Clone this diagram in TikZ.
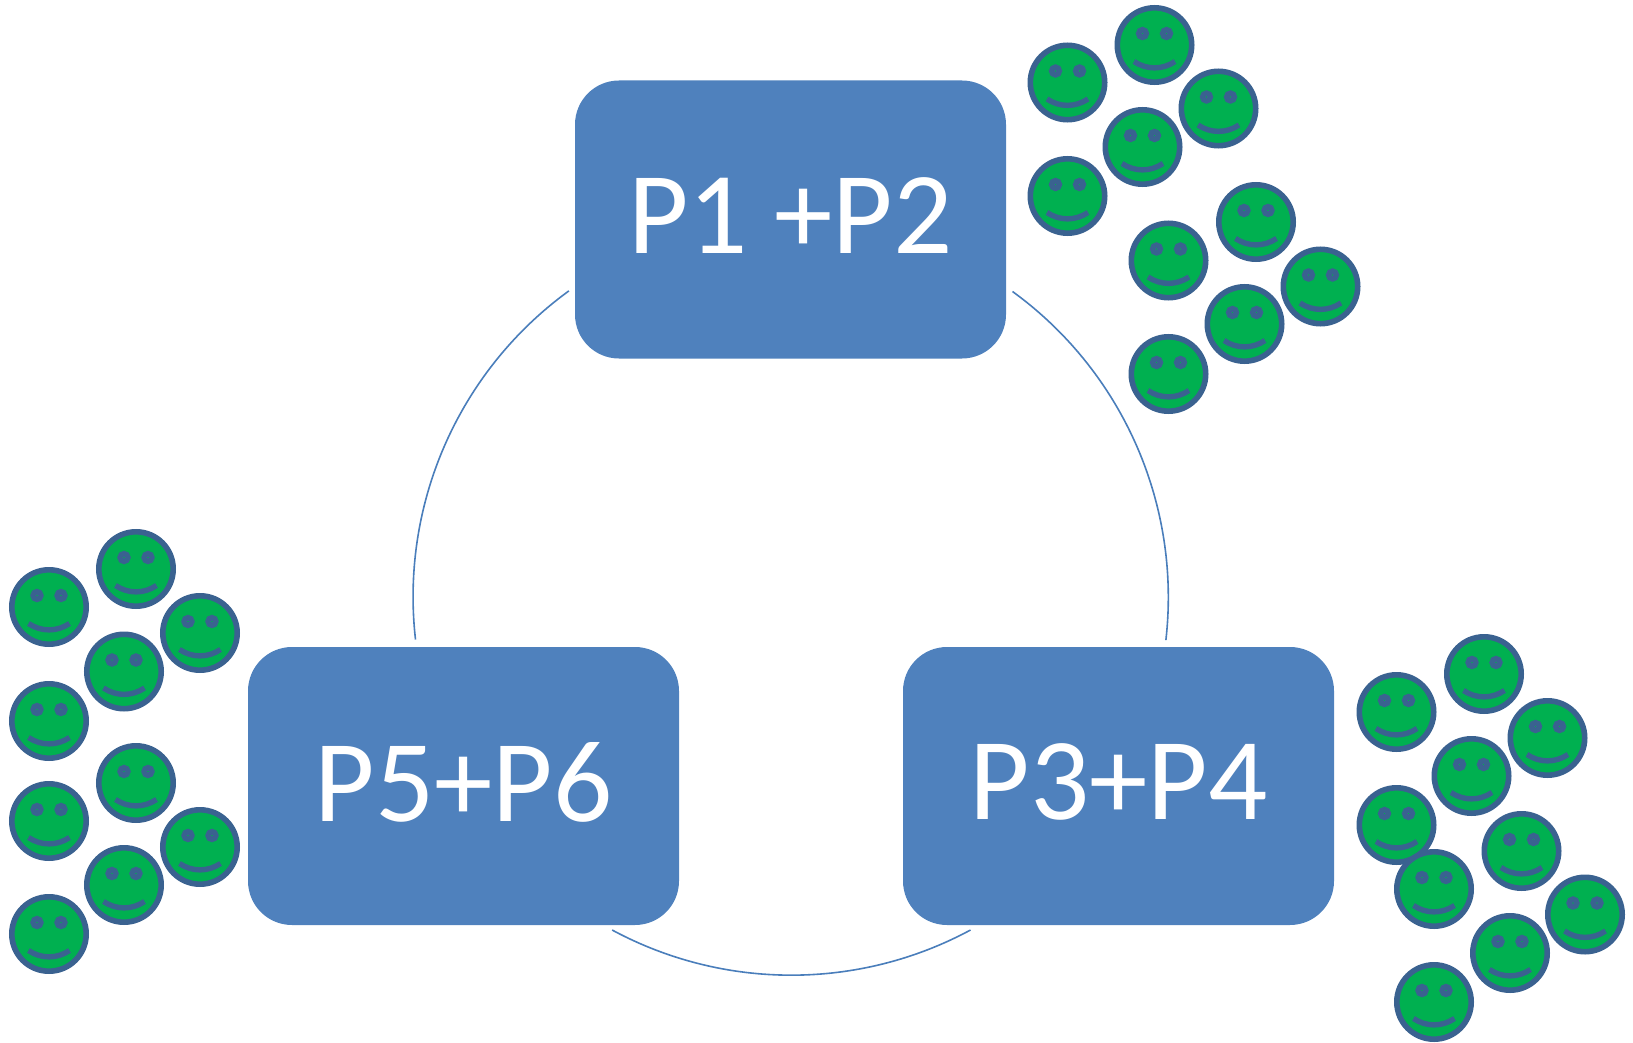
\documentclass[tikz,border=0pt]{standalone}
\usepackage{fontspec}
\setmainfont{Carlito}
\definecolor{boxblue}{HTML}{4F81BD}
\definecolor{facegreen}{HTML}{00B050}
\definecolor{faceline}{HTML}{3A6290}
\definecolor{arcblue}{HTML}{4A7EBB}
\tikzset{
  phase/.style={fill=boxblue,rounded corners=44pt,minimum width=431pt,minimum height=278pt,inner sep=0pt,text depth=8pt,text=white,font=\fontsize{117}{117}\selectfont},
  link/.style={draw=arcblue,line width=1.6pt},
  pics/smiley/.style={code={
    \draw[faceline,fill=facegreen,line width=5.6pt] (0,0) circle[radius=37.2];
    \draw[faceline,fill=facegreen,line width=5.6pt] (-12,-11.5) circle[radius=3.8];
    \draw[faceline,fill=facegreen,line width=5.6pt] (12,-11.5) circle[radius=3.8];
    \draw[faceline,line width=5.4pt] (-20.5,16.5) .. controls (-8,25) and (8,25) .. (20.5,16.5);
  }}
}
\begin{document}
\begin{tikzpicture}[x=1pt,y=-1pt]
\useasboundingbox (0,0) rectangle (1633,1043);
\coordinate (c) at (790.5,597);
\node[phase] (top) at (790.5,219.5) {P1 +P2};
\node[phase] (left) at (463.5,786) {P5+P6};
\node[phase] (right) at (1118.5,786) {P3+P4};
\coordinate (ra) at (1012.5,291.5);
\coordinate (lb) at (415.5,639.5);
\coordinate (bra) at (970.5,930);
\draw[link] (ra) arc[start angle=-54,end angle=6.5,radius=378];
\draw[link] (bra) arc[start angle=61.7,end angle=118.3,radius=378];
\draw[link] (lb) arc[start angle=173.5,end angle=234,radius=378];
\foreach \x/\y in {
 1154.5/45,1067.5/82.5,1218.5/108.5,1142.5/147,1067.5/196,
 1256/222,1168.5/260.5,1320.5/286.5,1244.5/324,1168.5/374,
 136/569,49/607,200/633,124/671.5,49/721,
 136/783,49/821,200/847,124/885,49/934,
 1484/674,1396.5/712,1547.5/738,1471.5/776,1396.5/825,
 1521.5/851,1434/889,1585/914.5,1510/953,1434/1002}
  \pic at (\x,\y) {smiley};
\end{tikzpicture}
\end{document}
